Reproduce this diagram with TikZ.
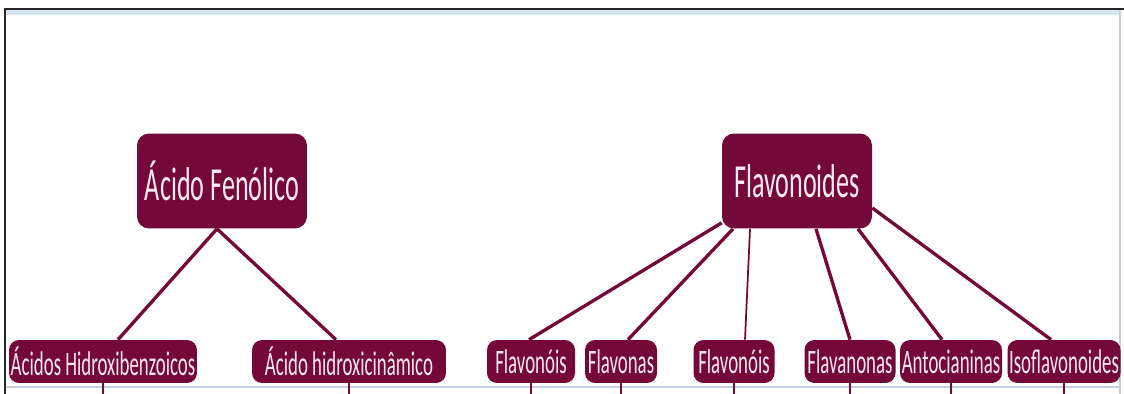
\documentclass[tikz,border=0pt]{standalone}
\usepackage{fontspec}
\setmainfont{Carlito}[FakeStretch=0.55]
\definecolor{vinho}{RGB}{116,8,56}
\definecolor{rosa}{RGB}{252,232,242}
\definecolor{rahmenhell}{RGB}{196,208,222}
\definecolor{rahmenblau}{RGB}{214,228,240}
\tikzset{
    kasten/.style={fill=vinho, text=rosa, rounded corners=0.2cm, inner sep=0pt},
    gross/.style={kasten, minimum height=1.9cm, rounded corners=0.24cm, font=\fontsize{27}{30}\selectfont},
    klein/.style={kasten, minimum height=0.86cm, font=\fontsize{19.5}{22}\selectfont},
    linie/.style={draw=vinho, line width=1.9pt},
}
\begin{document}
\begin{tikzpicture}[x=0.02cm, y=-0.02cm]
        \useasboundingbox (0,0) rectangle (1124,394);
        % Rahmen
        \draw[rahmenblau, line width=3pt] (6,12) -- (1120,12);
        \draw[rahmenhell, line width=1.2pt] (1120,10) -- (1120,394);
        \draw[rahmenhell, line width=1.2pt] (5,387) -- (1120,387);
        \draw[black!85, line width=1.6pt] (5,394) -- (5,9) -- (1124,9);
        \coordinate (unten) at (0,394);
        % Knoten oben
        \node[gross, minimum width=3.4cm] (fen) at (222,181) {Ácido Fenólico};
        \node[gross, minimum width=3.0cm] (fla) at (797,181) {Flavonoides};
        % Knoten unten
        \node[klein, minimum width=3.76cm] (ahb) at (103,361.5) {Ácidos Hidroxibenzoicos};
        \node[klein, minimum width=3.88cm] (ahc) at (349,361.5) {Ácido hidroxicinâmico};
        \node[klein, minimum width=1.76cm] (fl1) at (531,361.5) {Flavonóis};
        \node[klein, minimum width=1.44cm] (fls) at (621,361.5) {Flavonas};
        \node[klein, minimum width=1.62cm] (fl2) at (734,361.5) {Flavonóis};
        \node[klein, minimum width=1.82cm] (fln) at (850,361.5) {Flavanonas};
        \node[klein, minimum width=2.04cm] (ant) at (951,361.5) {Antocianinas};
        \node[klein, minimum width=2.26cm] (iso) at (1064,361.5) {Isoflavonoides};
        % Verbindungen
        \draw[linie] ([xshift=-0.1cm]fen.south) -- ([xshift=0.3cm]ahb.north);
        \draw[linie] ([xshift=-0.1cm]fen.south) -- ([xshift=-0.26cm]ahc.north);
        \draw[linie] ([yshift=0.12cm]fla.south west) -- ([xshift=-0.04cm]fl1.north);
        \draw[linie] ([xshift=-1.28cm]fla.south) -- ([xshift=0.14cm]fls.north);
        \draw[linie, line width=1pt] ([xshift=-0.94cm]fla.south) -- ([xshift=0.22cm]fl2.north);
        \draw[linie] ([xshift=0.38cm]fla.south) -- (fln.north);
        \draw[linie] ([xshift=1.22cm]fla.south) -- ([xshift=-0.18cm]ant.north);
        \draw[linie] ([yshift=-0.54cm]fla.east) -- ([xshift=-0.26cm]iso.north);
        % Ansaetze nach unten
        \foreach \n in {ahb, ahc, fl1, fls, fl2, fln, ant, iso}
        {
            \draw[linie, line width=1.1pt] (\n.south) -- (\n.south |- unten);
        }
\end{tikzpicture}
\end{document}
